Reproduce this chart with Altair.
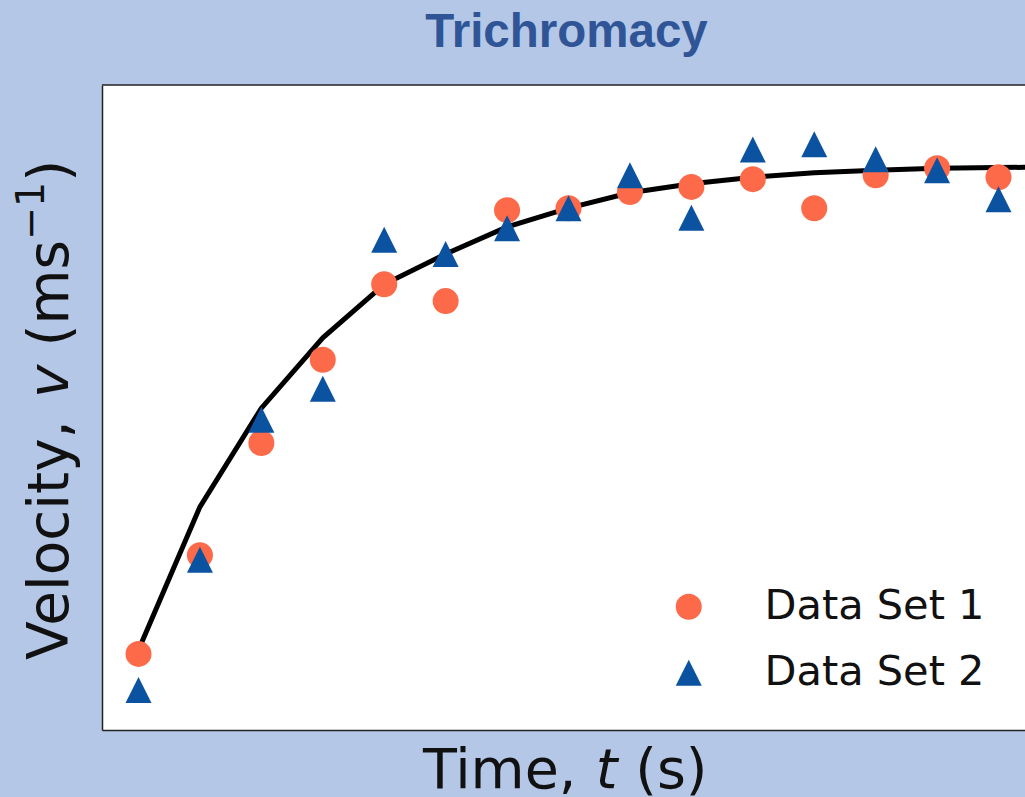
import altair as alt
import pandas as pd

# ---------------- data ----------------
time_s = [0, 1, 2, 3, 4, 5, 6, 7, 8, 9, 10, 11, 12, 13, 14]
set1 = [1.18, 2.71, 4.45, 5.74, 6.91, 6.65, 8.06, 8.09, 8.34, 8.42, 8.54, 8.09, 8.60, 8.71, 8.57]
set2 = [0.62, 2.64, 4.81, 5.29, 7.60, 7.38, 7.78, 8.09, 8.60, 7.94, 9.00, 9.08, 8.85, 8.68, 8.23]
fit_t = [0, 1, 2, 3, 4, 5, 6, 7, 8, 9, 10, 11, 12, 13, 14, 15]
fit_v = [1.24, 3.46, 4.99, 6.08, 6.91, 7.38, 7.80, 8.09, 8.33, 8.47, 8.57, 8.64, 8.68, 8.71, 8.72, 8.73]
series_names = ["Data Set 1", "Data Set 2"]

# ---------------- style ----------------
BG = "#b4c7e7"
TITLE_COLOR = "#2f5597"
C1 = "#fd6a4a"
C2 = "#0b53a0"
W, H = 923, 645
XDOM = [-0.594, 14.431]
YDOM = [0, 10]
TRI = "M0,-1L1,1L-1,1Z"

pts = pd.DataFrame({
    "t": time_s + time_s,
    "v": set1 + set2,
    "series": [series_names[0]] * len(time_s) + [series_names[1]] * len(time_s),
    "order": list(range(len(time_s) * 2)),
})
fit = pd.DataFrame({"t": fit_t, "v": fit_v})
one = pd.DataFrame({"a": [0]})

xs = alt.Scale(domain=XDOM, nice=False, zero=False)
ys = alt.Scale(domain=YDOM, nice=False, zero=False)
xax = alt.Axis(title=None, labels=False, ticks=False, grid=False, domain=True)
yax = alt.Axis(title=None, labels=False, ticks=False, grid=False, domain=True)

legend = alt.Legend(orient="none", legendX=566, legendY=501, title=None,
                    labelFontSize=41.5, labelFont="DejaVu Sans", labelLimit=0,
                    labelColor="#111", labelOffset=55, rowPadding=23,
                    symbolSize=676, symbolStrokeWidth=0, padding=0)

line = alt.Chart(fit).mark_line(color="black", strokeWidth=5, clip=True).encode(
    x=alt.X("t:Q", scale=xs, axis=xax),
    y=alt.Y("v:Q", scale=ys, axis=yax),
    order="t:Q",
)

points = alt.Chart(pts).mark_point(filled=True, size=676, opacity=1, strokeWidth=0).encode(
    x=alt.X("t:Q", scale=xs, axis=xax),
    y=alt.Y("v:Q", scale=ys, axis=yax),
    color=alt.Color("series:N", scale=alt.Scale(domain=series_names, range=[C1, C2]),
                    legend=legend),
    shape=alt.Shape("series:N", scale=alt.Scale(domain=series_names, range=["circle", TRI]),
                    legend=legend),
    order="order:Q",
)

top_rule = alt.Chart(one).mark_rule(color="#222", strokeWidth=1.5).encode(
    x=alt.value(0), x2=alt.value(W), y=alt.value(0)
)

def txt(text, x, y, size, **kw):
    return alt.Chart(one).mark_text(text=text, fontSize=size, align=kw.pop("align", "left"),
                                    baseline="alphabetic", **kw).encode(
        x=alt.value(x), y=alt.value(y))

title = txt("Trichromacy", 464.5, -38.3, 47.5, align="center", font="Liberation Sans",
            fontWeight="bold", color=TITLE_COLOR)

# x-axis label: "Time, t (s)" with italic t
FX = 55.5
x0, yb = 321, 702.5
xl1 = txt("Time,", x0, yb, FX, font="DejaVu Sans", color="#111")
xt = x0 + 3.114 * FX
xl2 = txt("t", xt, yb, FX, font="DejaVu Sans", fontStyle="italic", color="#111")
xs3 = xt + (0.392 + 0.318) * FX
xl3 = txt("(s)", xs3, yb, FX, font="DejaVu Sans", color="#111")

# y-axis label: "Velocity, v (ms^-1)" with italic v and superscript
FY = 56.5
FS = 39.5
bx = -33.7
y0 = 575
yl1 = txt("Velocity,", bx, y0, FY, font="DejaVu Sans", angle=270, color="#111")
yv = y0 - 4.637 * FY
yl2 = txt("v", bx, yv, FY, font="DejaVu Sans", fontStyle="italic", angle=270, color="#111")
ym = yv - (0.592 + 0.318) * FY
yl3 = txt("(ms", bx, ym, FY, font="DejaVu Sans", angle=270, color="#111")
ysup = ym - (0.390 + 0.974 + 0.521) * FY
yl4 = txt("\u22121", -58.5, ysup, FS, font="DejaVu Sans", angle=270, color="#111")
yp = ysup - 1.474 * FS
yl5 = txt(")", bx, yp, FY, font="DejaVu Sans", angle=270, color="#111")

chart = alt.layer(line, points, top_rule, title, xl1, xl2, xl3, yl1, yl2, yl3, yl4, yl5).properties(
    width=W, height=H,
    padding={"left": 102, "top": 85, "right": 0, "bottom": 67},
    autosize=alt.AutoSizeParams(type="none"),
    background=BG,
).configure_view(stroke=None, fill="white").configure_axis(
    domainColor="#222", domainWidth=1.5
)

chart.save("out.html", embed_options={"renderer": "svg", "actions": False})
